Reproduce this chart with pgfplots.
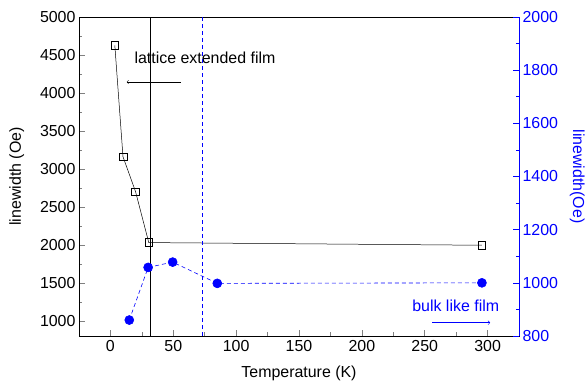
\documentclass[border=0pt]{standalone}
\usepackage{pgfplots}
\pgfplotsset{compat=1.18}
\usepackage{fontspec}
\setmainfont{Liberation Sans}
\definecolor{fmrblue}{RGB}{0,0,255}

\begin{document}
\begin{tikzpicture}
\useasboundingbox (-79bp,-50bp) rectangle (507bp,336bp);
\pgfplotsset{
  every axis/.append style={
    scale only axis,
    width=440bp, height=319bp,
    xmin=-25, xmax=325,
    font=\fontsize{16}{19}\selectfont,
    /pgf/number format/assume math mode=true,
    /pgf/number format/set thousands separator={},
    major tick length=6bp,
    minor tick length=3.5bp,
    tick style={line width=0.6pt},
  }
}
% Left axis: linewidth of the lattice extended film
\begin{axis}[
  ymin=800, ymax=5000,
  xtick={0,50,...,300},
  minor x tick num=1,
  ytick={1000,1500,...,5000},
  minor y tick num=1,
  xtick pos=bottom, ytick pos=left,
  xlabel={Temperature (K)},
  ylabel={linewidth (Oe)},
  xticklabel style={yshift=-1bp},
  xlabel style={yshift=-7bp},
  ylabel style={yshift=9bp},
  axis line style={line width=0.7pt},
]
\addplot[black, line width=0.5pt, mark=square, mark size=3.8bp,
  mark options={solid, fill=white, line width=0.6pt}]
  coordinates {(3.5,4625) (10,3160) (20,2700) (30.5,2030) (295.5,1995)};
\draw[black, line width=0.6pt] (axis cs:31.6,800) -- (axis cs:31.6,5000);
\draw[->, black, line width=0.5pt] (axis cs:56,4145) -- (axis cs:13,4145);
\node[anchor=west, inner sep=0pt] at (axis cs:19,4460) {lattice extended film};
\end{axis}
% Right axis: linewidth of the bulk like film
\begin{axis}[
  ymin=800, ymax=2000,
  ytick={800,1000,...,2000},
  minor y tick num=1,
  axis x line=none,
  axis y line*=right,
  ylabel={linewidth(Oe)},
  ylabel style={rotate=180, fmrblue, yshift=5bp},
  y axis line style={fmrblue, line width=0.7pt},
  y tick style={fmrblue},
  yticklabel style={fmrblue},
]
\addplot[fmrblue, line width=0.6pt, dash pattern=on 4bp off 3bp,
  mark=*, mark size=4.5bp, mark options={solid}]
  coordinates {(15,860) (30,1058) (49.5,1078) (85,998) (295.5,1000)};
\draw[fmrblue, line width=0.6pt, dash pattern=on 4bp off 3bp]
  (axis cs:73,800) -- (axis cs:73,2000);
\draw[->, fmrblue, line width=0.6pt] (axis cs:256,850) -- (axis cs:302,850);
\node[anchor=west, inner sep=0pt, text=fmrblue] at (axis cs:240,914) {bulk like film};
\end{axis}
\end{tikzpicture}
\end{document}
